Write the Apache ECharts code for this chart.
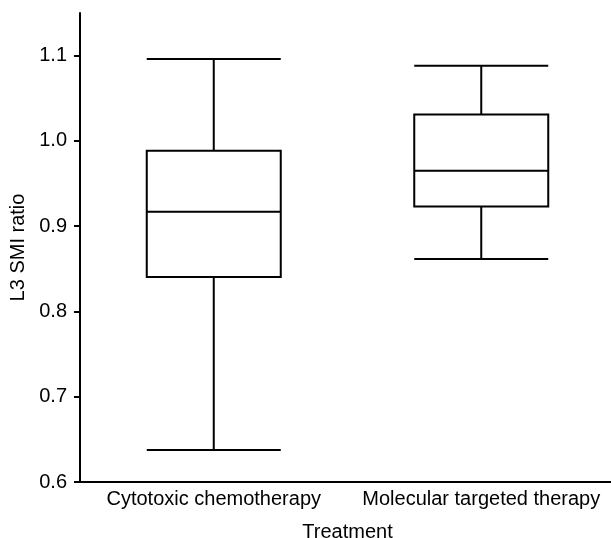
<!DOCTYPE html>
<html>
<head>
<meta charset="utf-8">
<script src="https://cdn.jsdelivr.net/npm/echarts@6/dist/echarts.min.js"></script>
<style>
  html, body { margin: 0; padding: 0; background: #fff; }
  #chart { width: 611px; height: 538px; }
</style>
</head>
<body>
<div id="chart"></div>
<script>
const categories = ['Cytotoxic chemotherapy', 'Molecular targeted therapy']
// [min, Q1, median, Q3, max]
const cytotoxic = [0.6375, 0.8405, 0.9168, 0.9885, 1.096]
const targeted = [0.8616, 0.923, 0.965, 1.031, 1.088]
const yTicks = [0.6, 0.7, 0.8, 0.9, 1.0, 1.1]

const FONT = 'Liberation Sans, Arial, sans-serif'
const axisLine = { show: true, lineStyle: { color: '#000', width: 2 } }

const chart = echarts.init(document.getElementById('chart'))
chart.setOption({
  animation: false,
  backgroundColor: '#fff',
  textStyle: { fontFamily: FONT, color: '#000' },
  grid: { left: 80, right: -4, top: 13, bottom: 56, containLabel: false, outerBoundsMode: 'none' },
  xAxis: {
    type: 'category',
    data: categories,
    name: 'Treatment',
    nameLocation: 'middle',
    nameGap: 40,
    nameTextStyle: { fontSize: 20, color: '#000', fontFamily: FONT },
    axisLine,
    axisTick: { show: false },
    axisLabel: { fontSize: 20, color: '#000', margin: 7, interval: 0, fontFamily: FONT },
    splitLine: { show: false },
  },
  yAxis: {
    type: 'value',
    min: 0.6,
    max: 1.15,
    interval: 0.1,
    name: 'L3 SMI ratio',
    nameLocation: 'middle',
    nameGap: 51,
    nameTextStyle: { fontSize: 20, color: '#000', fontFamily: FONT },
    axisLine,
    axisTick: { show: true, length: 6, lineStyle: { color: '#000', width: 2 }, customValues: yTicks },
    axisLabel: {
      fontSize: 20,
      color: '#000',
      margin: 13,
      fontFamily: FONT,
      customValues: yTicks,
      formatter: (v) => v.toFixed(1),
    },
    splitLine: { show: false },
  },
  series: [
    {
      type: 'boxplot',
      data: [cytotoxic, targeted],
      boxWidth: [134, 134],
      itemStyle: { color: '#fff', borderColor: '#000', borderWidth: 2 },
      emphasis: { disabled: true },
    },
  ],
})
</script>
</body>
</html>
